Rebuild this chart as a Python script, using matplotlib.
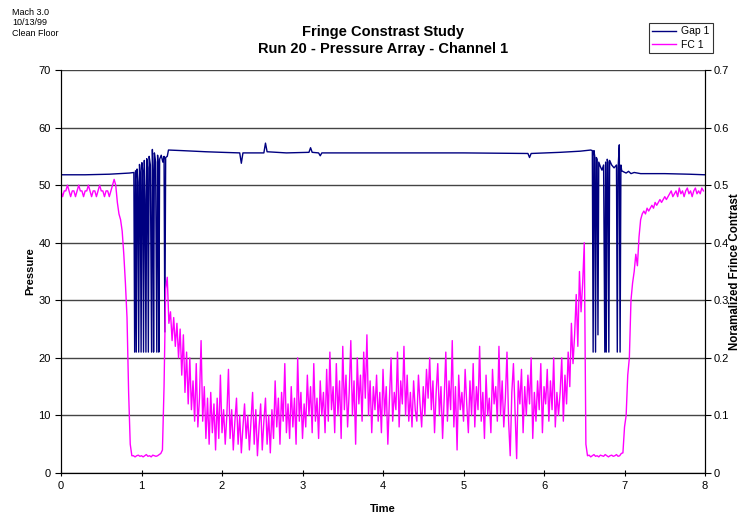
import matplotlib.pyplot as plt
import numpy as np

plt.rcParams['font.family'] = ['Liberation Sans', 'DejaVu Sans']

# Gap 1 (pressure, left axis): sample times and values
gap_t = [0.00, 0.30, 0.60, 0.85, 0.905, 0.915, 0.925, 0.935, 0.945, 0.955,
         0.965, 0.975, 0.985, 0.995, 1.005, 1.015, 1.025, 1.035, 1.045, 1.055,
         1.065, 1.075, 1.085, 1.095, 1.110, 1.125, 1.135, 1.143, 1.150, 1.160,
         1.175, 1.190, 1.200, 1.208, 1.215, 1.225, 1.245, 1.265, 1.280, 1.290,
         1.300, 1.320, 1.335, 1.50, 1.80, 2.00, 2.22, 2.24, 2.26, 2.52,
         2.54, 2.56, 2.80, 3.08, 3.10, 3.12, 3.20, 3.22, 3.24, 4.00,
         5.00, 5.80, 5.82, 5.84, 6.20, 6.45, 6.58, 6.600, 6.610, 6.620,
         6.630, 6.640, 6.650, 6.660, 6.670, 6.680, 6.700, 6.720, 6.740, 6.755,
         6.765, 6.773, 6.785, 6.795, 6.805, 6.815, 6.840, 6.870, 6.900, 6.910,
         6.920, 6.935, 6.945, 6.955, 6.965, 6.99, 7.02, 7.05, 7.08, 7.12,
         7.20, 7.50, 7.80, 8.00]
gap_p = [51.8, 51.8, 51.9, 52.1, 52.2, 21.0, 52.5, 21.0, 52.8, 50.5,
         21.0, 53.6, 52.0, 21.0, 53.9, 52.5, 21.0, 54.3, 47.5, 21.0,
         54.6, 53.0, 21.0, 55.0, 53.5, 21.0, 56.2, 52.0, 21.0, 55.6,
         54.0, 21.0, 55.2, 53.0, 21.0, 54.5, 55.2, 54.0, 55.0, 24.5,
         54.8, 55.0, 56.1, 56.0, 55.8, 55.7, 55.6, 53.8, 55.6, 55.6,
         57.3, 55.8, 55.6, 55.7, 56.5, 55.7, 55.6, 55.1, 55.6, 55.6,
         55.6, 55.5, 54.8, 55.5, 55.7, 55.9, 56.1, 56.0, 21.0, 56.0,
         55.0, 21.0, 54.8, 54.5, 24.0, 54.0, 53.2, 52.6, 53.5, 21.0,
         54.0, 21.0, 54.5, 54.0, 21.0, 54.3, 53.5, 53.0, 53.5, 21.0,
         53.0, 57.0, 21.0, 53.5, 52.5, 52.3, 52.1, 52.4, 52.0, 52.2,
         52.0, 52.0, 51.9, 51.8]

# FC 1 (normalized fringe contrast x 100, right axis), sampled every 0.02 s
fc_step = 0.02
fc_start = [0.00, 0.90, 1.26, 6.52, 6.98]
fc_pre = [49, 48, 49, 49, 50, 49, 48, 49, 49, 48, 49, 50, 49, 49, 48, 49,
          49, 50, 49, 48, 49, 49, 48, 49, 50, 49, 49, 48, 49, 49, 48, 49,
          50, 51, 50, 47, 45, 44, 42, 38, 33, 27, 14, 5, 3]
fc_floor1 = [3, 2.8, 3, 3.1, 2.9, 3, 2.8, 3, 3.2, 2.9, 3, 2.8, 3.1, 3, 2.9,
             3, 3.2, 3.4]
fc_mid = [4, 15, 32, 34, 26, 28, 23, 27, 22, 26, 20, 25, 17, 24, 14, 21,
          12, 20, 11, 16, 9, 19, 8, 13, 23, 9, 15, 6, 13, 5, 14, 7,
          12, 4, 13, 6, 17, 7, 11, 5, 10, 18, 6, 11, 4, 9, 13, 5,
          10, 3.5, 8, 12, 6, 10, 4, 9, 14, 5, 11, 3, 8, 12, 4, 9,
          13, 5, 10, 3.5, 11, 6, 16, 8, 13, 5, 14, 9, 19, 7, 12, 6,
          15, 8, 13, 5, 20, 9, 14, 6, 12, 8, 17, 10, 15, 7, 19, 9,
          13, 6, 16, 10, 14, 7, 18, 9, 21, 11, 15, 7, 19, 10, 16, 6,
          22, 11, 17, 8, 14, 23, 10, 16, 5, 20, 12, 17, 9, 21, 13, 24,
          10, 16, 7, 15, 11, 17, 9, 14, 7, 18, 10, 15, 5, 13, 20, 9,
          14, 11, 21, 8, 16, 12, 22, 10, 17, 9, 14, 8, 16, 11, 9, 17,
          12, 8, 15, 10, 18, 13, 20, 11, 16, 7, 14, 19, 10, 15, 6, 13,
          21, 9, 16, 11, 23, 8, 15, 4, 17, 11, 14, 9, 18, 12, 7, 16,
          10, 19, 8, 15, 11, 22, 9, 14, 6, 17, 10, 13, 7, 18, 12, 15,
          9, 22, 10, 16, 8, 13, 21, 9, 3, 14, 19, 11, 2.5, 16, 12, 18,
          7, 15, 10, 17, 12, 20, 6, 14, 9, 16, 11, 19, 7, 15, 12, 18,
          9, 16, 11, 20, 8, 14, 10, 14, 20, 9, 17, 12, 21, 15, 26, 19,
          24, 31, 22, 35, 28, 33, 40]
fc_floor2 = [5, 3, 3.1, 2.8, 3, 3.2, 2.9, 3, 2.8, 3.1, 3, 2.9, 3.2, 3, 2.8,
             3, 3.1, 2.9, 3, 3.2, 2.9, 3, 3.4]
fc_post = [3.5, 8, 10, 17, 20, 30, 33, 35, 38, 36, 41, 44, 45, 45.5, 45, 46,
           45.5, 46, 46.5, 46, 47, 46.5, 47, 47.5, 47, 47.5, 48, 47.5, 48, 48.5,
           49, 48, 48.5, 49, 48, 49.5, 48.5, 49, 48, 49, 49.5, 48.5, 49, 48,
           49, 49.5, 48.5, 49, 48.5, 49.5, 49]

fc_segments = [fc_pre, fc_floor1, fc_mid, fc_floor2, fc_post]
fc_t = np.concatenate([t0 + fc_step * np.arange(len(seg))
                       for t0, seg in zip(fc_start, fc_segments)])
fc_v = np.concatenate([np.array(seg, dtype=float) / 100 for seg in fc_segments])

fig = plt.figure(figsize=(7.43, 5.17), dpi=100)
ax = fig.add_axes((0.0821, 0.0851, 0.8668, 0.7795))
ax2 = ax.twinx()

l1, = ax.plot(gap_t, gap_p, color='#000080', lw=1.0)
l2, = ax2.plot(fc_t, fc_v, color='#FF00FF', lw=1.0)

ax.set_xlim(0, 8)
ax.set_ylim(0, 70)
ax2.set_ylim(0, 0.7)
ax.set_yticks(np.arange(0, 71, 10))
ax2.set_yticks(np.arange(0, 0.71, 0.1))
ax2.set_yticklabels(['0', '0.1', '0.2', '0.3', '0.4', '0.5', '0.6', '0.7'])
ax.yaxis.grid(True, color='#444444', lw=1.0)
ax.set_axisbelow(True)

for a in (ax, ax2):
    a.spines['top'].set_visible(False)
    a.tick_params(labelsize=8, length=4, width=0.8, direction='out')
ax.tick_params(axis='x', direction='inout', length=5)
ax2.tick_params(axis='y', pad=2.5)

ax.set_xlabel('Time', fontsize=8, fontweight='bold', labelpad=9)
ax.set_ylabel('Pressure', fontsize=8, fontweight='bold', va='center')
ax.yaxis.set_label_coords(-0.048, 0.5)
ax2.set_ylabel('Noramalized Frince Contrast', fontsize=8.3, fontweight='bold',
               va='center')
ax2.yaxis.set_label_coords(1.047, 0.5)

fig.text(0.516, 0.921, 'Fringe Constrast Study\nRun 20 - Pressure Array - Channel 1',
         ha='center', va='center', fontsize=10.5, fontweight='bold', linespacing=1.3)
fig.text(0.016, 0.985, 'Mach 3.0\n10/13/99\nClean Floor', ha='left', va='top',
         fontsize=6.5, linespacing=1.2)

leg = fig.legend([l1, l2], ['Gap 1', 'FC 1'], loc='upper right',
                 bbox_to_anchor=(0.959, 0.956), borderaxespad=0, fontsize=7.5,
                 frameon=True, fancybox=False, edgecolor='black', handlelength=2.3,
                 borderpad=0.35, labelspacing=0.3, handletextpad=0.4)
leg.get_frame().set_linewidth(0.8)

fig.savefig('out.png', dpi=100)
